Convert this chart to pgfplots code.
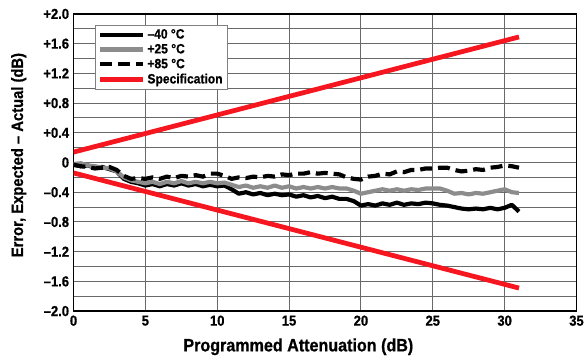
\documentclass[border=0pt]{standalone}
\usepackage{fontspec}
\setmainfont{Liberation Sans}[FakeStretch=0.9, BoldFeatures={FakeBold=0.8}]
\usepackage{pgfplots}
\pgfplotsset{compat=1.18}
\definecolor{specred}{RGB}{245,22,32}
\definecolor{gray25}{RGB}{140,140,140}
\definecolor{gridgray}{RGB}{105,105,105}
\pgfplotsset{
  legend image code/.code={\draw[#1] (0pt,0pt) -- (43pt,0pt);},
}
\begin{document}
\begin{tikzpicture}
\begin{axis}[
  scale only axis,
  width=506pt, height=299pt,
  xmin=0, xmax=35, ymin=-2, ymax=2,
  xtick={0,5,10,15,20,25,30,35},
  xticklabels={0,5,10,15,20,25,30,35},
  ytick={-2,-1.6,-1.2,-0.8,-0.4,0,0.4,0.8,1.2,1.6,2},
  yticklabels={–2.0,–1.6,–1.2,–0.8,–0.4,0,+0.4,+0.8,+1.2,+1.6,+2.0},
  minor ytick={-1.8,-1.4,-1.0,-0.6,-0.2,0.2,0.6,1.0,1.4,1.8},
  grid=both,
  major grid style={gridgray, line width=0.9pt},
  minor grid style={gridgray, line width=0.9pt},
  major tick length=0pt, minor tick length=0pt,
  axis line style={black, line width=1.3pt},
  tick label style={font=\bfseries\fontsize{14.5}{16}\selectfont},
  xticklabel style={yshift=-1pt},
  yticklabel style={xshift=-1pt},
  xlabel={Programmed Attenuation (dB)},
  ylabel={Error, Expected – Actual (dB)},
  xlabel style={font=\bfseries\fontsize{18}{21}\selectfont, at={(axis description cs:0.447,-0.12)}, anchor=center},
  ylabel style={font=\bfseries\fontsize{16.5}{19}\selectfont, at={(axis description cs:-0.109,0.525)}, anchor=center},
  legend style={at={(0.042,0.963)}, anchor=north west, draw=gray, line width=0.6pt, fill=white,
    font=\bfseries\fontsize{13.5}{15}\selectfont, row sep=0pt, inner xsep=3pt, inner ysep=2pt},
  legend cell align=left,
  clip=true,
]
\addplot[black, line width=4.2pt, line join=round] coordinates {
(0,-0.03)(0.5,-0.05)(1,-0.04)(1.5,-0.07)(2,-0.06)(2.5,-0.09)(3,-0.12)(3.5,-0.22)
(4,-0.26)(4.5,-0.28)(5,-0.31)(5.5,-0.29)(6,-0.32)(6.5,-0.29)(7,-0.31)(7.5,-0.28)
(8,-0.31)(8.5,-0.29)(9,-0.32)(9.5,-0.30)(10,-0.32)(10.5,-0.31)(11,-0.36)(11.5,-0.42)
(12,-0.40)(12.5,-0.43)(13,-0.41)(13.5,-0.44)(14,-0.42)(14.5,-0.44)(15,-0.43)(15.5,-0.46)
(16,-0.44)(16.5,-0.47)(17,-0.45)(17.5,-0.48)(18,-0.46)(18.5,-0.49)(19,-0.49)(19.5,-0.52)
(20,-0.58)(20.5,-0.56)(21,-0.58)(21.5,-0.55)(22,-0.57)(22.5,-0.54)(23,-0.57)(23.5,-0.55)
(24,-0.56)(24.5,-0.54)(25,-0.55)(25.5,-0.57)(26,-0.58)(26.5,-0.60)(27,-0.62)(27.5,-0.63)
(28,-0.62)(28.5,-0.63)(29,-0.61)(29.5,-0.63)(30,-0.61)(30.5,-0.57)(31,-0.66)
};
\addlegendentry{–40 °C}
\addplot[gray25, line width=4.2pt, line join=round] coordinates {
(0,-0.02)(0.5,-0.01)(1,-0.04)(1.5,-0.05)(2,-0.07)(2.5,-0.08)(3,-0.12)(3.5,-0.20)
(4,-0.24)(4.5,-0.26)(5,-0.28)(5.5,-0.26)(6,-0.29)(6.5,-0.26)(7,-0.28)(7.5,-0.25)
(8,-0.28)(8.5,-0.26)(9,-0.28)(9.5,-0.26)(10,-0.28)(10.5,-0.27)(11,-0.30)(11.5,-0.33)
(12,-0.31)(12.5,-0.34)(13,-0.32)(13.5,-0.34)(14,-0.31)(14.5,-0.34)(15,-0.32)(15.5,-0.35)
(16,-0.33)(16.5,-0.35)(17,-0.33)(17.5,-0.35)(18,-0.33)(18.5,-0.35)(19,-0.35)(19.5,-0.38)
(20,-0.42)(20.5,-0.40)(21,-0.38)(21.5,-0.36)(22,-0.38)(22.5,-0.36)(23,-0.38)(23.5,-0.36)
(24,-0.37)(24.5,-0.35)(25,-0.35)(25.5,-0.35)(26,-0.38)(26.5,-0.42)(27,-0.41)(27.5,-0.43)
(28,-0.41)(28.5,-0.42)(29,-0.40)(29.5,-0.38)(30,-0.36)(30.5,-0.40)(31,-0.41)
};
\addlegendentry{+25 °C}
\addplot[black, line width=4.2pt, dash pattern=on 12pt off 6pt] coordinates {
(0,-0.03)(0.5,-0.05)(1,-0.06)(1.5,-0.08)(2,-0.07)(2.5,-0.06)(3,-0.10)(3.5,-0.18)
(4,-0.22)(4.5,-0.21)(5,-0.22)(5.5,-0.20)(6,-0.22)(6.5,-0.19)(7,-0.21)(7.5,-0.18)
(8,-0.19)(8.5,-0.17)(9,-0.19)(9.5,-0.15)(10,-0.15)(10.5,-0.18)(11,-0.22)(11.5,-0.20)
(12,-0.21)(12.5,-0.19)(13,-0.20)(13.5,-0.18)(14,-0.19)(14.5,-0.16)(15,-0.17)(15.5,-0.15)
(16,-0.15)(16.5,-0.13)(17,-0.15)(17.5,-0.14)(18,-0.15)(18.5,-0.16)(19,-0.20)(19.5,-0.22)
(20,-0.23)(20.5,-0.19)(21,-0.18)(21.5,-0.15)(22,-0.16)(22.5,-0.12)(23,-0.13)(23.5,-0.10)
(24,-0.10)(24.5,-0.08)(25,-0.08)(25.5,-0.07)(26,-0.07)(26.5,-0.10)(27,-0.12)(27.5,-0.11)
(28,-0.09)(28.5,-0.10)(29,-0.07)(29.5,-0.06)(30,-0.04)(30.5,-0.05)(31,-0.07)
};
\addlegendentry{+85 °C}
\addplot[specred, line width=4.8pt] coordinates {(0,0.14)(31,1.69)};
\addlegendentry{Specification}
\addplot[specred, line width=4.8pt, forget plot] coordinates {(0,-0.14)(31,-1.69)};
\end{axis}
\path (current axis.south west) ++(-74pt,-51pt) coordinate (bl);
\path (current axis.north east) ++(8pt,14pt) coordinate (tr);
\useasboundingbox (bl) rectangle (tr);
\end{tikzpicture}
\end{document}
